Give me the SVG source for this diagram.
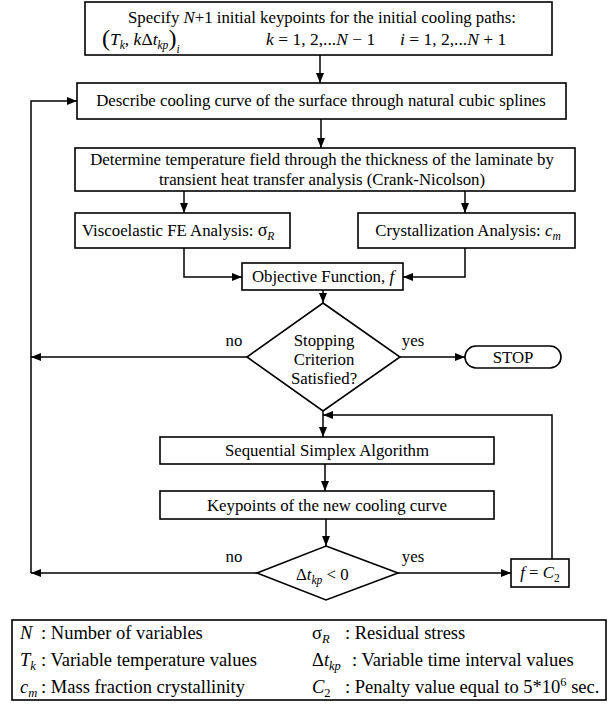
<svg xmlns="http://www.w3.org/2000/svg" width="609" height="708" viewBox="0 0 609 708">
<defs>
<style>
text{font-family:"Liberation Serif","Times New Roman",serif;font-size:16.8px;fill:#000}
.c{text-anchor:middle}
.i{font-style:italic}
.sub{font-size:11.5px}
.f{font-size:17.5px}
.lg{font-size:18.5px}
.lg .sub{font-size:12.5px}
.box{fill:#fff;stroke:#000;stroke-width:1.6}
.ln{fill:none;stroke:#000;stroke-width:1.5}
</style>
<marker id="ah" viewBox="0 0 10 8" refX="10" refY="4" markerWidth="10" markerHeight="8" markerUnits="userSpaceOnUse" orient="auto">
<path d="M0,0 L10,4 L0,8 Z" fill="#000"/>
</marker>
</defs>
<rect width="609" height="708" fill="#fff"/>

<g id="connectors">
<line class="ln" x1="320" y1="55" x2="320" y2="83" marker-end="url(#ah)"/>
<line class="ln" x1="321" y1="119" x2="321" y2="148" marker-end="url(#ah)"/>
<line class="ln" x1="184" y1="191" x2="184" y2="213" marker-end="url(#ah)"/>
<line class="ln" x1="465" y1="191" x2="465" y2="213" marker-end="url(#ah)"/>
<polyline class="ln" points="184,248 184,277 242,277" marker-end="url(#ah)"/>
<polyline class="ln" points="465,248 465,277 403,277" marker-end="url(#ah)"/>
<line class="ln" x1="323" y1="290" x2="323" y2="303" marker-end="url(#ah)"/>
<line class="ln" x1="247" y1="357" x2="31" y2="357" marker-end="url(#ah)"/>
<line class="ln" x1="400" y1="357" x2="465" y2="357" marker-end="url(#ah)"/>
<line class="ln" x1="323" y1="411" x2="323" y2="437" marker-end="url(#ah)"/>
<polyline class="ln" points="552,559 552,415 323,415" marker-end="url(#ah)"/>
<line class="ln" x1="325" y1="464" x2="325" y2="491" marker-end="url(#ah)"/>
<line class="ln" x1="326" y1="519" x2="326" y2="546" marker-end="url(#ah)"/>
<line class="ln" x1="257" y1="573" x2="31" y2="573" marker-end="url(#ah)"/>
<line class="ln" x1="398" y1="573" x2="511" y2="573" marker-end="url(#ah)"/>
<polyline class="ln" points="31,573 31,101 77,101" marker-end="url(#ah)"/>
<text x="234" y="346" class="c">no</text>
<text x="413" y="346" class="c">yes</text>
<text x="234" y="562" class="c">no</text>
<text x="413" y="562" class="c">yes</text>
</g>

<g id="n-specify">
<rect class="box" x="85" y="2" width="467" height="53"/>
<text x="322" y="23" class="c">Specify <tspan class="i">N</tspan>+1 initial keypoints for the initial cooling paths:</text>
<text x="102" y="45" class="f"><tspan font-size="24" dy="1">(</tspan><tspan class="i" dy="-1">T</tspan><tspan class="i sub" dy="4">k</tspan><tspan dy="-4">,  </tspan><tspan class="i">k</tspan>Δ<tspan class="i">t</tspan><tspan class="i sub" dy="4">kp</tspan><tspan font-size="24" dy="-3">)</tspan><tspan class="i sub" dy="7">i</tspan></text>
<text x="266" y="45" class="f"><tspan class="i">k</tspan> = 1, 2,...<tspan class="i">N</tspan> − 1</text>
<text x="400" y="45" class="f"><tspan class="i">i</tspan> = 1, 2,...<tspan class="i">N</tspan> + 1</text>
</g>

<g id="n-describe">
<rect class="box" x="77" y="83" width="489" height="36"/>
<text x="321" y="106" class="c">Describe cooling curve of the surface through natural cubic splines</text>
</g>

<g id="n-determine">
<rect class="box" x="75" y="148" width="500" height="43"/>
<text x="322" y="165" class="c">Determine temperature field through the thickness of the laminate by</text>
<text x="322" y="185" class="c">transient heat transfer analysis (Crank-Nicolson)</text>
</g>

<g id="n-visco">
<rect class="box" x="75" y="213" width="215" height="35"/>
<text x="82" y="236">Viscoelastic FE Analysis:  <tspan font-size="18">σ</tspan><tspan class="i sub" dy="4">R</tspan></text>
</g>

<g id="n-crystal">
<rect class="box" x="358" y="213" width="217" height="35"/>
<text x="468" y="236" class="c">Crystallization Analysis: <tspan class="i">c</tspan><tspan class="i sub" dy="4">m</tspan></text>
</g>

<g id="n-objective">
<rect class="box" x="242" y="263" width="161" height="27"/>
<text x="323" y="282" class="c">Objective Function, <tspan class="i">f</tspan></text>
</g>

<g id="n-stopping">
<polygon class="box" points="323,303 400,357 323,411 247,357"/>
<text x="324" y="346" class="c">Stopping</text>
<text x="324" y="365" class="c">Criterion</text>
<text x="324" y="384" class="c">Satisfied?</text>
</g>

<g id="n-stop">
<rect class="box" x="465" y="346" width="96" height="22" rx="11" ry="11"/>
<text x="513" y="363" class="c">STOP</text>
</g>

<g id="n-simplex">
<rect class="box" x="160" y="437" width="334" height="27"/>
<text x="327" y="456" class="c">Sequential Simplex Algorithm</text>
</g>

<g id="n-keypoints">
<rect class="box" x="160" y="491" width="334" height="28"/>
<text x="327" y="511" class="c">Keypoints of the new cooling curve</text>
</g>

<g id="n-dtcheck">
<polygon class="box" points="326,546 398,573 326,600 257,573"/>
<text x="296" y="580" font-size="18">Δ<tspan class="i">t</tspan><tspan class="i sub" dy="4">kp</tspan><tspan dy="-4"> &lt; 0</tspan></text>
</g>

<g id="n-penalty">
<rect class="box" x="511" y="559" width="58" height="28"/>
<text x="540" y="578" class="c"><tspan class="i">f</tspan> = <tspan class="i">C</tspan><tspan class="sub" dy="4">2</tspan></text>
</g>

<g id="legend">
<rect class="box" x="12" y="620" width="594" height="80"/>
<g class="lg">
<text x="20" y="639" class="lg i">N</text>
<text x="41" y="639" class="lg">: Number of variables</text>
<text x="20" y="666" class="lg"><tspan class="i">T</tspan><tspan class="i sub" dy="4">k</tspan></text>
<text x="41" y="666" class="lg">: Variable temperature values</text>
<text x="20" y="693" class="lg"><tspan class="i">c</tspan><tspan class="i sub" dy="4">m</tspan></text>
<text x="41" y="693" class="lg">: Mass fraction crystallinity</text>
<text x="312" y="639" class="lg">σ<tspan class="i sub" dy="4">R</tspan></text>
<text x="345" y="639" class="lg">: Residual stress</text>
<text x="312" y="666" class="lg">Δ<tspan class="i">t</tspan><tspan class="i sub" dy="4">kp</tspan></text>
<text x="352" y="666" class="lg">: Variable time interval values</text>
<text x="312" y="693" class="lg"><tspan class="i">C</tspan><tspan class="sub" dy="4">2</tspan></text>
<text x="345" y="693" class="lg">: Penalty value equal to 5*10<tspan class="sub" dy="-7">6</tspan><tspan dy="7"> sec.</tspan></text>
</g>
</g>
</svg>
